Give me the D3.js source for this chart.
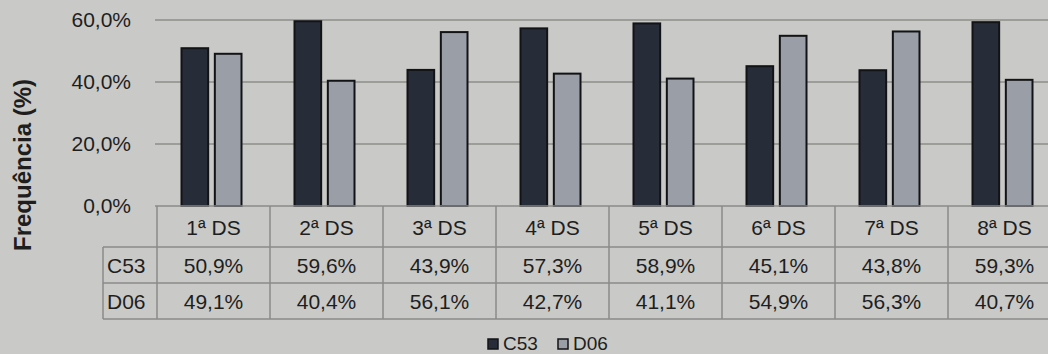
<!DOCTYPE html>
<html>
<head>
<meta charset="utf-8">
<script src="https://cdn.jsdelivr.net/npm/d3@7"></script>
<style>
  html, body { margin: 0; padding: 0; background: #c9c9c7; }
  svg { display: block; font-family: "Liberation Sans", Arial, sans-serif; }
</style>
</head>
<body>
<svg id="chart" width="1048" height="354"></svg>
<script>
// Categories and series values (%)
const categories = ["1ª DS", "2ª DS", "3ª DS", "4ª DS", "5ª DS", "6ª DS", "7ª DS", "8ª DS"];
const seriesNames = ["C53", "D06"];
const c53 = [50.9, 59.6, 43.9, 57.3, 58.9, 45.1, 43.8, 59.3];
const d06 = [49.1, 40.4, 56.1, 42.7, 41.1, 54.9, 56.3, 40.7];
const yTicks = [0, 20, 40, 60];
const seriesColors = ["#272c39", "#9a9ea7"];

const fmt = v => d3.format(".1f")(v).replace(".", ",") + "%";

const svg = d3.select("#chart");
const W = 1048;

const plotLeft = 155, tableLeft = 157, colW = 113;
const x = d3.scaleBand().domain(categories)
  .range([tableLeft, tableLeft + colW * categories.length]).padding(0);
const xs = d3.scaleBand().domain(seriesNames)
  .range([0, 60]).paddingInner(0.2);
const y = d3.scaleLinear().domain([0, 60]).range([206, 20]);

// Gridlines
svg.append("g").selectAll("line").data(yTicks.filter(t => t > 0)).join("line")
  .attr("x1", plotLeft).attr("x2", W)
  .attr("y1", d => y(d)).attr("y2", d => y(d))
  .attr("stroke", "#8c8c8a").attr("stroke-width", 1.5);

// Y tick labels
const yAxis = d3.axisLeft(y).tickValues(yTicks).tickFormat(fmt).tickSize(0).tickPadding(0);
const ya = svg.append("g").attr("transform", "translate(131,0)").call(yAxis);
ya.select(".domain").remove();
ya.selectAll("text").attr("font-size", 21).attr("fill", "#1e1e1e")
  .attr("font-family", "Liberation Sans, Arial, sans-serif");

// Y axis title
svg.append("text")
  .attr("transform", "translate(31,165) rotate(-90)")
  .attr("text-anchor", "middle")
  .attr("font-size", 24).attr("font-weight", "bold").attr("fill", "#1e1e1e")
  .text("Frequência (%)");

// Bars
const data = categories.map((c, i) => ({ cat: c, vals: [c53[i], d06[i]] }));
const groups = svg.append("g").selectAll("g").data(data).join("g")
  .attr("transform", d => `translate(${x(d.cat) + x.bandwidth() / 2 - 32},0)`);
groups.selectAll("rect").data(d => d.vals.map((v, j) => ({ s: seriesNames[j], v, j }))).join("rect")
  .attr("x", d => xs(d.s))
  .attr("width", xs.bandwidth())
  .attr("y", d => y(d.v))
  .attr("height", d => y(0) - y(d.v))
  .attr("fill", d => seriesColors[d.j])
  .attr("stroke", "#121316").attr("stroke-width", 2);

// Data table
const rowTop = 206, headerH = 41, rowH = 36, labelLeft = 103;
const rowY = [rowTop, rowTop + headerH, rowTop + headerH + rowH, rowTop + headerH + 2 * rowH];
const table = svg.append("g").attr("stroke", "#8a8a88").attr("stroke-width", 1.5);
const tableRight = tableLeft + colW * categories.length;
table.append("line").attr("x1", tableLeft - 2).attr("x2", tableRight).attr("y1", rowY[0]).attr("y2", rowY[0]);
rowY.slice(1).forEach(yy => {
  table.append("line").attr("x1", labelLeft).attr("x2", tableRight).attr("y1", yy).attr("y2", yy);
});
const colEdges = categories.map(c => x(c)).concat([tableRight]);
colEdges.forEach(xx => {
  table.append("line").attr("x1", xx).attr("x2", xx).attr("y1", rowY[0]).attr("y2", rowY[3]);
});
table.append("line").attr("x1", labelLeft).attr("x2", labelLeft).attr("y1", rowY[1]).attr("y2", rowY[3]);

const txt = svg.append("g").attr("font-size", 21).attr("fill", "#1e1e1e");
txt.selectAll("text.hdr").data(categories).join("text").attr("class", "hdr")
  .attr("x", d => x(d) + colW / 2).attr("y", rowY[0] + headerH / 2 + 8)
  .attr("text-anchor", "middle").text(d => d);
[c53, d06].forEach((vals, r) => {
  txt.append("text").attr("x", labelLeft + 4).attr("y", rowY[r + 1] + rowH / 2 + 8)
    .text(seriesNames[r]);
  txt.selectAll(null).data(vals).join("text")
    .attr("x", (d, i) => x(categories[i]) + colW / 2)
    .attr("y", rowY[r + 1] + rowH / 2 + 8)
    .attr("text-anchor", "middle").text(d => fmt(d));
});

// Legend
const legend = svg.append("g").attr("font-size", 19).attr("fill", "#1e1e1e");
const legendX = [488, 558];
seriesNames.forEach((s, i) => {
  legend.append("rect").attr("x", legendX[i]).attr("y", 339).attr("width", 10).attr("height", 10)
    .attr("fill", seriesColors[i]).attr("stroke", "#121316").attr("stroke-width", 1.5);
  legend.append("text").attr("x", legendX[i] + 15).attr("y", 350).text(s);
});
</script>
</body>
</html>
